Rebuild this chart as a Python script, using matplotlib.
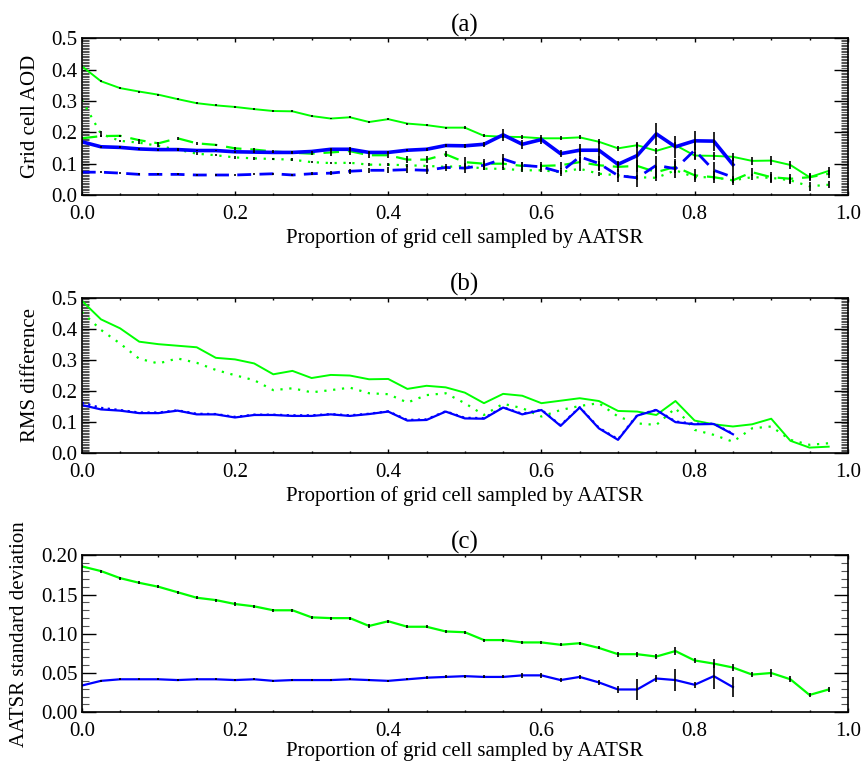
import numpy as np
import matplotlib
matplotlib.use('Agg')
import matplotlib.pyplot as plt
from matplotlib.ticker import MultipleLocator, FormatStrFormatter

plt.rcParams['font.family'] = ['Liberation Serif', 'DejaVu Serif']
plt.rcParams['font.size'] = 15

prop = [0.000, 0.025, 0.050, 0.075, 0.100, 0.125, 0.150, 0.175, 0.200, 0.225,
        0.250, 0.275, 0.300, 0.325, 0.350, 0.375, 0.400, 0.425, 0.450, 0.475,
        0.500, 0.525, 0.550, 0.575, 0.600, 0.625, 0.650, 0.675, 0.700, 0.725,
        0.750, 0.775, 0.800, 0.825, 0.850, 0.875, 0.900, 0.925, 0.950, 0.975]
prop_b = prop[:35]   # blue series stop at 0.85

# (a) grid cell AOD
aod_g = [0.411, 0.363, 0.341, 0.330, 0.320, 0.306, 0.293, 0.286, 0.281, 0.274,
         0.268, 0.267, 0.252, 0.244, 0.248, 0.233, 0.242, 0.228, 0.223, 0.215,
         0.215, 0.189, 0.186, 0.185, 0.181, 0.181, 0.184, 0.170, 0.149, 0.159,
         0.141, 0.159, 0.126, 0.125, 0.122, 0.109, 0.110, 0.096, 0.057, 0.077]
aod_g_err = [0.003, 0.003, 0.003, 0.003, 0.003, 0.003, 0.003, 0.003, 0.003, 0.003,
             0.003, 0.003, 0.003, 0.003, 0.003, 0.003, 0.003, 0.003, 0.003, 0.003,
             0.004, 0.005, 0.005, 0.005, 0.005, 0.006, 0.006, 0.008, 0.008, 0.010,
             0.010, 0.010, 0.010, 0.012, 0.012, 0.012, 0.015, 0.012, 0.010, 0.012]
aod_g_dash = [0.181, 0.188, 0.189, 0.175, 0.165, 0.181, 0.165, 0.160, 0.149, 0.145,
              0.139, 0.135, 0.132, 0.136, 0.140, 0.127, 0.127, 0.113, 0.113, 0.130,
              0.105, 0.100, 0.100, 0.093, 0.093, 0.095, 0.105, 0.095, 0.090, 0.093,
              0.073, 0.090, 0.063, 0.057, 0.047, 0.073, 0.057, 0.052, 0.057, 0.068]
aod_g_dash_err = [0.004, 0.004, 0.004, 0.004, 0.004, 0.005, 0.004, 0.004, 0.004, 0.004,
                  0.004, 0.005, 0.005, 0.010, 0.012, 0.010, 0.010, 0.012, 0.012, 0.010,
                  0.015, 0.015, 0.015, 0.012, 0.012, 0.012, 0.015, 0.015, 0.015, 0.020,
                  0.020, 0.020, 0.020, 0.020, 0.015, 0.013, 0.018, 0.015, 0.012, 0.012]
aod_g_dot = [0.304, 0.195, 0.173, 0.167, 0.157, 0.145, 0.132, 0.127, 0.120, 0.117,
             0.115, 0.113, 0.105, 0.102, 0.103, 0.097, 0.097, 0.095, 0.093, 0.090,
             0.093, 0.084, 0.084, 0.079, 0.079, 0.073, 0.084, 0.068, 0.063, 0.057,
             0.055, 0.079, 0.057, 0.057, 0.047, 0.057, 0.055, 0.047, 0.028, 0.033]
aod_g_dot_err = [0.004, 0.010, 0.004, 0.004, 0.004, 0.004, 0.004, 0.004, 0.004, 0.004,
                 0.004, 0.004, 0.004, 0.004, 0.004, 0.004, 0.004, 0.004, 0.004, 0.004,
                 0.005, 0.005, 0.005, 0.005, 0.005, 0.006, 0.006, 0.006, 0.008, 0.008,
                 0.010, 0.010, 0.010, 0.010, 0.010, 0.010, 0.012, 0.012, 0.015, 0.012]
aod_b = [0.170, 0.154, 0.152, 0.147, 0.145, 0.145, 0.142, 0.142, 0.138, 0.137,
         0.136, 0.136, 0.139, 0.146, 0.146, 0.136, 0.136, 0.143, 0.146, 0.158,
         0.157, 0.162, 0.192, 0.162, 0.177, 0.132, 0.143, 0.143, 0.098, 0.126,
         0.195, 0.154, 0.173, 0.172, 0.097]
aod_b_err = [0.003, 0.003, 0.003, 0.003, 0.003, 0.003, 0.003, 0.003, 0.003, 0.003,
             0.003, 0.003, 0.003, 0.003, 0.003, 0.003, 0.003, 0.003, 0.004, 0.005,
             0.006, 0.008, 0.020, 0.015, 0.015, 0.012, 0.020, 0.030, 0.012, 0.040,
             0.035, 0.035, 0.030, 0.030, 0.020]
aod_b_dash = [0.073, 0.073, 0.070, 0.066, 0.066, 0.066, 0.064, 0.064, 0.064, 0.066,
              0.068, 0.064, 0.068, 0.070, 0.076, 0.079, 0.079, 0.081, 0.079, 0.088,
              0.086, 0.095, 0.115, 0.095, 0.090, 0.073, 0.122, 0.101, 0.062, 0.055,
              0.095, 0.084, 0.143, 0.079, 0.057]
aod_b_dash_err = [0.003, 0.003, 0.003, 0.003, 0.003, 0.003, 0.003, 0.003, 0.003, 0.003,
                  0.003, 0.003, 0.005, 0.006, 0.008, 0.008, 0.010, 0.012, 0.012, 0.012,
                  0.015, 0.015, 0.015, 0.012, 0.010, 0.012, 0.020, 0.025, 0.020, 0.030,
                  0.030, 0.030, 0.030, 0.025, 0.020]

# (b) RMS difference
rms_g = [0.490, 0.430, 0.401, 0.358, 0.350, 0.345, 0.340, 0.306, 0.301, 0.288,
         0.253, 0.264, 0.241, 0.251, 0.249, 0.237, 0.238, 0.206, 0.216, 0.211,
         0.194, 0.160, 0.190, 0.184, 0.160, 0.168, 0.176, 0.167, 0.135, 0.133,
         0.122, 0.167, 0.104, 0.092, 0.085, 0.092, 0.110, 0.039, 0.017, 0.020]
rms_g_dot = [0.454, 0.396, 0.352, 0.303, 0.288, 0.304, 0.290, 0.267, 0.250, 0.234,
             0.202, 0.208, 0.195, 0.202, 0.210, 0.192, 0.189, 0.162, 0.186, 0.192,
             0.160, 0.122, 0.158, 0.144, 0.117, 0.138, 0.151, 0.160, 0.117, 0.095,
             0.090, 0.144, 0.074, 0.058, 0.036, 0.079, 0.085, 0.042, 0.026, 0.031]
rms_b = [0.154, 0.140, 0.136, 0.128, 0.128, 0.136, 0.124, 0.124, 0.114, 0.122,
         0.122, 0.119, 0.119, 0.124, 0.119, 0.125, 0.133, 0.104, 0.106, 0.133,
         0.111, 0.110, 0.146, 0.124, 0.138, 0.087, 0.146, 0.079, 0.042, 0.120,
         0.138, 0.099, 0.092, 0.093, 0.060]
rms_b_dot = [0.162, 0.145, 0.138, 0.130, 0.130, 0.137, 0.126, 0.125, 0.116, 0.123,
             0.123, 0.121, 0.121, 0.125, 0.121, 0.126, 0.134, 0.106, 0.108, 0.134,
             0.113, 0.112, 0.147, 0.126, 0.139, 0.089, 0.147, 0.081, 0.044, 0.121,
             0.139, 0.101, 0.094, 0.094, 0.062]

# (c) AATSR standard deviation
sd_g = [0.186, 0.180, 0.171, 0.165, 0.160, 0.153, 0.146, 0.143, 0.138, 0.135,
        0.130, 0.130, 0.121, 0.120, 0.120, 0.110, 0.116, 0.109, 0.109, 0.103,
        0.102, 0.092, 0.092, 0.089, 0.089, 0.086, 0.088, 0.082, 0.074, 0.074,
        0.071, 0.078, 0.066, 0.062, 0.057, 0.048, 0.050, 0.042, 0.022, 0.029]
sd_g_err = [0.002, 0.002, 0.002, 0.002, 0.002, 0.002, 0.002, 0.002, 0.002, 0.002,
            0.002, 0.002, 0.002, 0.002, 0.002, 0.002, 0.002, 0.002, 0.002, 0.002,
            0.002, 0.002, 0.002, 0.002, 0.002, 0.002, 0.002, 0.002, 0.003, 0.003,
            0.003, 0.005, 0.003, 0.006, 0.004, 0.003, 0.005, 0.004, 0.003, 0.003]
sd_b = [0.034, 0.040, 0.042, 0.042, 0.042, 0.041, 0.042, 0.042, 0.041, 0.042,
        0.040, 0.041, 0.041, 0.041, 0.042, 0.041, 0.040, 0.042, 0.044, 0.045,
        0.046, 0.045, 0.045, 0.047, 0.047, 0.041, 0.045, 0.038, 0.029, 0.029,
        0.043, 0.041, 0.035, 0.046, 0.032]
sd_b_err = [0.001, 0.001, 0.001, 0.001, 0.001, 0.001, 0.001, 0.001, 0.001, 0.001,
            0.001, 0.001, 0.001, 0.001, 0.001, 0.001, 0.001, 0.001, 0.002, 0.002,
            0.002, 0.002, 0.002, 0.003, 0.003, 0.003, 0.003, 0.003, 0.004, 0.013,
            0.005, 0.014, 0.004, 0.017, 0.013]

green = '#00ff00'
blue = '#0000ff'
xlab = 'Proportion of grid cell sampled by AATSR'

fig = plt.figure(figsize=(8.61, 7.65), dpi=100)
axa = fig.add_axes([0.095, 0.745, 0.8897, 0.205])
axb = fig.add_axes([0.095, 0.408, 0.8897, 0.203])
axc = fig.add_axes([0.095, 0.069, 0.8897, 0.205])


def errbars(ax, x, y, e):
    ax.errorbar(x, y, yerr=e, fmt='none', ecolor='k', elinewidth=1.2,
                capsize=0, zorder=5)


# (a)
axa.plot(prop, aod_g, color=green, lw=1.4)
axa.plot(prop, aod_g_dash, color=green, lw=1.6, dashes=(7, 4))
axa.plot(prop, aod_g_dot, color=green, lw=1.6, dashes=(1, 3))
axa.plot(prop_b, aod_b, color=blue, lw=2.6)
axa.plot(prop_b, aod_b_dash, color=blue, lw=2.0, dashes=(5, 3))
errbars(axa, prop, aod_g, aod_g_err)
errbars(axa, prop, aod_g_dash, aod_g_dash_err)
errbars(axa, prop, aod_g_dot, aod_g_dot_err)
errbars(axa, prop_b, aod_b, aod_b_err)
errbars(axa, prop_b, aod_b_dash, aod_b_dash_err)
axa.set_ylim(0, 0.5)
axa.yaxis.set_major_locator(MultipleLocator(0.1))
axa.yaxis.set_minor_locator(MultipleLocator(0.005))
axa.set_ylabel('Grid cell AOD', labelpad=8)
axa.set_title('(a)', pad=5)

# (b)
axb.plot(prop, rms_g, color=green, lw=1.4)
axb.plot(prop, rms_g_dot, color=green, lw=1.6, dashes=(1, 3))
axb.plot(prop_b, rms_b, color=blue, lw=1.6)
axb.plot(prop_b, rms_b_dot, color=blue, lw=1.6, dashes=(1, 2))
axb.set_ylim(0, 0.5)
axb.yaxis.set_major_locator(MultipleLocator(0.1))
axb.yaxis.set_minor_locator(MultipleLocator(0.005))
axb.set_ylabel('RMS difference', labelpad=8)
axb.set_title('(b)', pad=5)

# (c)
axc.plot(prop, sd_g, color=green, lw=1.6)
axc.plot(prop_b, sd_b, color=blue, lw=1.6)
errbars(axc, prop, sd_g, sd_g_err)
errbars(axc, prop_b, sd_b, sd_b_err)
axc.set_ylim(0, 0.2)
axc.yaxis.set_major_locator(MultipleLocator(0.05))
axc.yaxis.set_minor_locator(MultipleLocator(0.01))
axc.yaxis.set_major_formatter(FormatStrFormatter('%.2f'))
axc.set_ylabel('AATSR standard deviation', labelpad=9)
axc.set_title('(c)', pad=5)

for ax in (axa, axb, axc):
    ax.set_xlim(0, 1.0)
    ax.xaxis.set_major_locator(MultipleLocator(0.2))
    ax.xaxis.set_minor_locator(MultipleLocator(0.05))
    ax.xaxis.set_major_formatter(FormatStrFormatter('%.1f'))
    if ax is not axc:
        ax.yaxis.set_major_formatter(FormatStrFormatter('%.1f'))
    ax.set_xlabel(xlab, labelpad=3 if ax is not axc else 0)
    ax.tick_params(which='both', direction='in', top=True, right=True, labelsize=15)
    ax.tick_params(axis='x', which='major', length=3, width=1, pad=7)
    ax.tick_params(axis='x', which='minor', length=1.5, width=1)
    ax.tick_params(axis='y', which='major', length=10, width=1, pad=3)
    ax.tick_params(axis='y', which='minor', length=5, width=0.8, color='#555555')
    for s in ax.spines.values():
        s.set_linewidth(1.2)

fig.savefig('out.png', dpi=100)
